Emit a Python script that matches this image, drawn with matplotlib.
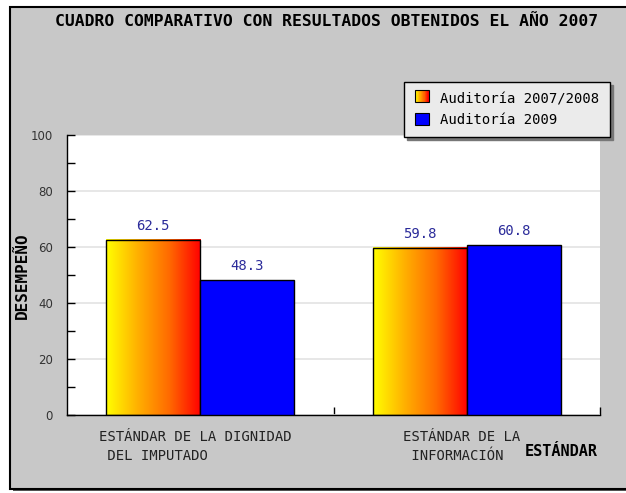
import numpy as np
import matplotlib
matplotlib.use("Agg")
import matplotlib.pyplot as plt
from matplotlib.patches import Rectangle
from matplotlib.colors import LinearSegmentedColormap
from matplotlib.legend_handler import HandlerBase

categorias = ["ESTÁNDAR DE LA DIGNIDAD\n DEL IMPUTADO", "ESTÁNDAR DE LA\n INFORMACIÓN"]
series = ["Auditoría 2007/2008", "Auditoría 2009"]
auditoria_2007 = [62.5, 59.8]
auditoria_2009 = [48.3, 60.8]

MONO = "DejaVu Sans Mono"
GRIS = "#c8c8c8"
fuego = LinearSegmentedColormap.from_list("fuego", ["#ffff00", "#ffb000", "#ff6a00", "#ff0000"])
degradado = np.linspace(0, 1, 256).reshape(1, -1)


class HandlerDegradado(HandlerBase):
    # cuadrito de leyenda con el mismo degradado que las barras
    def create_artists(self, legend, orig, xd, yd, w, h, fontsize, trans):
        n = 24
        arts = []
        for i in range(n):
            arts.append(Rectangle((xd + w * i / n, yd), w / n + 0.3, h,
                                  facecolor=fuego(i / (n - 1)), edgecolor="none",
                                  transform=trans))
        arts.append(Rectangle((xd, yd), w, h, facecolor="none", edgecolor="black",
                              lw=0.8, transform=trans))
        return arts


fig = plt.figure(figsize=(6.26, 4.93), dpi=100, facecolor="white")

# marco gris con borde negro (se sale por la derecha)
fig.patches.append(Rectangle((13 / 626, 2 / 493), 1.1, 484 / 493, transform=fig.transFigure,
                             facecolor="#555555", edgecolor="none", zorder=-2))
fig.patches.append(Rectangle((10 / 626, 4 / 493), 1.1, 482 / 493, transform=fig.transFigure,
                             facecolor=GRIS, edgecolor="black", lw=1.5, zorder=-1))

ax = fig.add_axes([67 / 626, 78 / 493, 533 / 626, 280 / 493])
ax.set_facecolor("white")

x = np.arange(len(categorias))
ancho = 0.353
barras_a = ax.bar(x - ancho / 2, auditoria_2007, ancho, facecolor="none", edgecolor="black",
                  lw=1, zorder=3)
barras_b = ax.bar(x + ancho / 2, auditoria_2009, ancho, color="#0000ff", edgecolor="black",
                  lw=1, zorder=3)

for b in barras_a:
    x0, w, h = b.get_x(), b.get_width(), b.get_height()
    ax.imshow(degradado, cmap=fuego, aspect="auto", extent=(x0, x0 + w, 0, h), zorder=2)

for b in list(barras_a) + list(barras_b):
    ax.annotate(f"{b.get_height():.1f}", (b.get_x() + b.get_width() / 2, b.get_height()),
                xytext=(0, 5), textcoords="offset points", ha="center", va="bottom",
                color="#2b2b9a", fontsize=10, family=MONO)

ax.set_xlim(-0.5, 1.5)
ax.set_ylim(0, 100)
ax.set_yticks(np.arange(0, 101, 20))
ax.set_yticks(np.arange(0, 101, 10), minor=True)
ax.yaxis.grid(True, color="#e3e3e3", lw=1.2, zorder=0)
ax.set_axisbelow(True)
ax.tick_params(axis="y", which="both", direction="in", length=6, width=1, pad=10,
               labelsize=8.5, labelcolor="#333333")
for t in ax.get_yticklabels():
    t.set_family("DejaVu Sans")
ax.set_xticks([0.5, 1.5])
ax.set_xticklabels([])
ax.tick_params(axis="x", direction="in", length=6, width=1)
for s in ["top", "right"]:
    ax.spines[s].set_visible(False)
ax.spines["left"].set_linewidth(1)
ax.spines["bottom"].set_linewidth(1)

# etiquetas de categoría bajo cada grupo
posiciones_etq = [(99, 430), (403, 430)]
for etq, (px, py) in zip(categorias, posiciones_etq):
    fig.text(px / 626, 1 - py / 493, etq, ha="left", va="top", fontsize=10,
             family=MONO, color="#222222", linespacing=1.45)

fig.text(598 / 626, 1 - 451 / 493, "ESTÁNDAR", ha="right", va="center",
         fontsize=11, fontweight="bold", family=MONO)
fig.text(22 / 626, 1 - 276 / 493, "DESEMPEÑO", ha="center", va="center", rotation=90,
         fontsize=11.5, fontweight="bold", family=MONO)
fig.text(327 / 626, 1 - 21 / 493, "CUADRO COMPARATIVO CON RESULTADOS OBTENIDOS EL AÑO 2007",
         ha="center", va="center", fontsize=11.8, fontweight="bold", family=MONO)

muestra_a = Rectangle((0, 0), 1, 1)
muestra_b = Rectangle((0, 0), 1, 1, facecolor="#0000ff", edgecolor="black", lw=0.8)
leg = fig.legend([muestra_a, muestra_b], series, loc="upper right",
                 bbox_to_anchor=(610 / 626, 1 - 82 / 493),
                 handler_map={muestra_a: HandlerDegradado()},
                 prop={"family": MONO, "size": 10}, frameon=True, fancybox=False,
                 shadow={"color": "#777777", "alpha": 1}, facecolor="#ebebeb",
                 edgecolor="black", framealpha=1, handlelength=1.0, handleheight=1.0,
                 handletextpad=0.85, labelspacing=0.45, borderpad=0.75, borderaxespad=0)
leg.get_frame().set_linewidth(1)

fig.savefig("out.png", dpi=100, facecolor=fig.get_facecolor())
